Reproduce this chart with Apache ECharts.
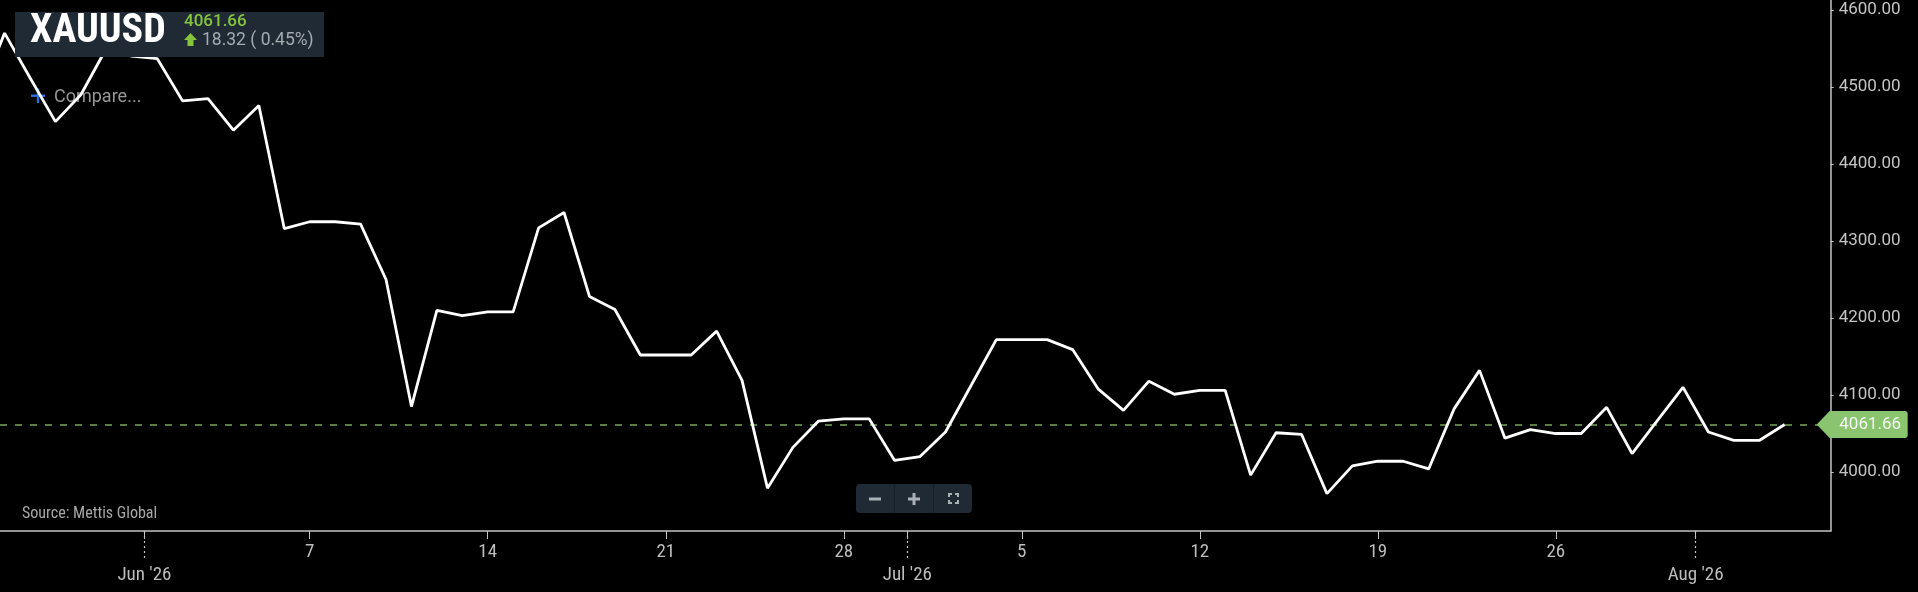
<!DOCTYPE html>
<html><head><meta charset="utf-8">
<script src="https://cdn.jsdelivr.net/npm/echarts@6/dist/echarts.min.js"></script>
<style>html,body{margin:0;padding:0;background:#000;}#c{width:1918px;height:592px;}</style>
</head><body><div id="c"></div>
<script>
// ---- data ----
const dates = [
 '2026-05-25','2026-05-26','2026-05-27','2026-05-28','2026-05-29','2026-05-30','2026-05-31',
 '2026-06-01','2026-06-02','2026-06-03','2026-06-04','2026-06-05','2026-06-06','2026-06-07','2026-06-08','2026-06-09','2026-06-10',
 '2026-06-11','2026-06-12','2026-06-13','2026-06-14','2026-06-15','2026-06-16','2026-06-17','2026-06-18','2026-06-19','2026-06-20',
 '2026-06-21','2026-06-22','2026-06-23','2026-06-24','2026-06-25','2026-06-26','2026-06-27','2026-06-28','2026-06-29','2026-06-30',
 '2026-07-01','2026-07-02','2026-07-03','2026-07-04','2026-07-05','2026-07-06','2026-07-07','2026-07-08','2026-07-09','2026-07-10',
 '2026-07-11','2026-07-12','2026-07-13','2026-07-14','2026-07-15','2026-07-16','2026-07-17','2026-07-18','2026-07-19','2026-07-20',
 '2026-07-21','2026-07-22','2026-07-23','2026-07-24','2026-07-25','2026-07-26','2026-07-27','2026-07-28','2026-07-29','2026-07-30','2026-07-31',
 '2026-08-01','2026-08-02','2026-08-03','2026-08-04'
];
const prices = [
 4487, 4570, 4512, 4455, 4490, 4550, 4540,
 4537, 4482, 4485, 4444, 4476, 4316, 4325, 4325, 4322, 4250,
 4085, 4210, 4203, 4208, 4208, 4317, 4337, 4228, 4211, 4152,
 4152, 4152, 4183, 4119, 3979, 4032, 4066, 4069, 4069, 4015,
 4020, 4052, 4112, 4172, 4172, 4172, 4159, 4108, 4080, 4118,
 4101, 4106, 4106, 3996, 4051, 4049, 3972, 4008, 4014, 4014,
 4004, 4082, 4132, 4044, 4055, 4050, 4050, 4084, 4024, 4067, 4110,
 4052, 4041, 4041, 4061.66
];
const lastPrice = 4061.66;
const change = '18.32';
const changePct = '0.45%';
const symbolName = 'XAUUSD';
const weekTickDates = ['2026-06-07','2026-06-14','2026-06-21','2026-06-28','2026-07-05','2026-07-12','2026-07-19','2026-07-26'];
const weekTickLabels = ['7','14','21','28','5','12','19','26'];
const monthTickDates = ['2026-06-01','2026-07-01','2026-08-01'];
const monthTickLabels = ["Jun '26","Jul '26","Aug '26"];
const yTicks = [4000, 4100, 4200, 4300, 4400, 4500, 4600];

// ---- helpers ----
const ORIGIN = Date.UTC(2026, 4, 31);
function dayNum(s) { const p = s.split('-').map(Number); return (Date.UTC(p[0], p[1]-1, p[2]) - ORIGIN) / 864e5; }
const seriesData = dates.map((d, i) => [dayNum(d), prices[i]]);
const weekVals = weekTickDates.map(dayNum);
const monthVals = monthTickDates.map(d => dayNum(d) - 0.5);

const NARROW = '"Liberation Sans Narrow","Roboto Condensed","DejaVu Sans Condensed",Roboto,sans-serif';
const ROBOTO = 'Roboto,"Noto Sans",sans-serif';
const X_MIN = -5.18, X_MAX = 66.81;
const GREEN = '#8ac46f';
const PANEL = '#1f2a35';

function lookup(vals, labels) {
  return v => { for (let i = 0; i < vals.length; i++) if (Math.abs(vals[i] - v) < 1e-6) return labels[i]; return ''; };
}

const chart = echarts.init(document.getElementById('c'), null, {renderer: 'canvas'});
const option = {
  backgroundColor: '#000',
  animation: false,
  grid: {left: 0, right: 87.3, top: 0, bottom: 61, containLabel: false},
  xAxis: [
    {
      type: 'value', min: X_MIN, max: X_MAX, position: 'bottom',
      splitLine: {show: false},
      axisLine: {show: true, onZero: false, lineStyle: {color: '#c4c4c4', width: 1.5}},
      axisTick: {show: true, length: 8, customValues: weekVals.concat(monthVals), lineStyle: {color: '#c4c4c4', width: 1}},
      axisLabel: {show: true, customValues: weekVals, formatter: lookup(weekVals, weekTickLabels),
        margin: 12, color: '#bdbdbd', fontFamily: NARROW, fontSize: 19}
    },
    {
      type: 'value', min: X_MIN, max: X_MAX, position: 'bottom',
      splitLine: {show: false},
      axisLine: {show: false, onZero: false},
      axisTick: {show: true, length: 28, customValues: monthVals, lineStyle: {color: '#c4c4c4', width: 1.2, type: [2, 3]}},
      axisLabel: {show: true, customValues: monthVals, formatter: lookup(monthVals, monthTickLabels),
        margin: 35, color: '#bdbdbd', fontFamily: NARROW, fontSize: 19}
    }
  ],
  yAxis: {
    type: 'value', position: 'right', min: 3923.4, max: 4613, scale: true,
    splitLine: {show: false},
    axisLine: {show: true, onZero: false, lineStyle: {color: '#c4c4c4', width: 1.5}},
    axisTick: {show: true, inside: false, length: 3, customValues: yTicks, lineStyle: {color: '#c4c4c4'}},
    axisLabel: {show: true, customValues: yTicks, formatter: v => v.toFixed(2), margin: 8,
      color: '#c4c4c4', fontFamily: ROBOTO, fontSize: 17}
  },
  series: [{
    type: 'line',
    xAxisIndex: 0,
    data: seriesData,
    showSymbol: false,
    clip: true,
    z: 5,
    lineStyle: {color: '#ffffff', width: 2.8},
    itemStyle: {color: '#ffffff'},
    markLine: {
      silent: true, symbol: 'none',
      lineStyle: {color: '#76a85a', width: 1.5, type: [7, 8]},
      label: {show: false},
      data: [{yAxis: lastPrice}]
    },
    markPoint: {
      silent: true,
      symbol: 'path://M0,13.5L13,0L88,0Q91,0,91,3L91,24Q91,27,88,27L13,27Z',
      symbolSize: [91, 27],
      symbolOffset: [31.5, 0],
      itemStyle: {color: GREEN},
      label: {show: true, formatter: lastPrice.toFixed(2), color: '#f4f8f2', fontFamily: ROBOTO, fontSize: 17, offset: [8, 0]},
      data: [{coord: [X_MAX, lastPrice]}]
    }
  }],
  graphic: [
    {type: 'rect', shape: {x: 15, y: 12, width: 309, height: 45}, style: {fill: PANEL}, z: 100},
    {type: 'text', z: 101, style: {text: symbolName, x: 30, y: 32, fill: '#ffffff', font: 'bold 40px ' + NARROW, verticalAlign: 'middle'}},
    {type: 'text', z: 101, style: {text: lastPrice.toFixed(2), x: 184, y: 22, fill: '#86c43c', font: '500 17px ' + ROBOTO, verticalAlign: 'middle'}},
    {type: 'polygon', z: 101, shape: {points: [[190.5,33],[197,40],[193.5,40],[193.5,46],[187.5,46],[187.5,40],[184,40]]}, style: {fill: '#86c43c'}},
    {type: 'text', z: 101, style: {text: change + ' ( ' + changePct + ')', x: 202, y: 40.5, fill: '#a4abb1', font: '17.5px ' + ROBOTO, verticalAlign: 'middle'}},
    {type: 'rect', z: 1, shape: {x: 31, y: 94.5, width: 14, height: 2.4}, style: {fill: '#2a6fdb'}},
    {type: 'rect', z: 1, shape: {x: 36.8, y: 88.5, width: 2.4, height: 14.5}, style: {fill: '#2a6fdb'}},
    {type: 'text', z: 1, style: {text: 'Compare...', x: 54, y: 97, fill: '#979797', font: '18px ' + ROBOTO, verticalAlign: 'middle'}},
    {type: 'text', z: 101, style: {text: 'Source: Mettis Global', x: 22, y: 514, fill: '#a8a8a8', font: '16px ' + NARROW, verticalAlign: 'middle'}},
    {type: 'rect', z: 101, shape: {x: 856, y: 484, width: 116, height: 29, r: 4}, style: {fill: PANEL}},
    {type: 'rect', z: 102, shape: {x: 894, y: 484, width: 1, height: 29}, style: {fill: '#17212a'}},
    {type: 'rect', z: 102, shape: {x: 933, y: 484, width: 1, height: 29}, style: {fill: '#17212a'}},
    {type: 'rect', z: 102, shape: {x: 869, y: 497.5, width: 12, height: 3}, style: {fill: '#a9b0b6'}},
    {type: 'rect', z: 102, shape: {x: 908, y: 497.5, width: 12, height: 3}, style: {fill: '#a9b0b6'}},
    {type: 'rect', z: 102, shape: {x: 912.5, y: 493, width: 3, height: 12}, style: {fill: '#a9b0b6'}},
    {type: 'polyline', z: 102, shape: {points: [[949,497],[949,494],[952,494]]}, style: {stroke: '#a9b0b6', lineWidth: 2, fill: null}},
    {type: 'polyline', z: 102, shape: {points: [[955,494],[958,494],[958,497]]}, style: {stroke: '#a9b0b6', lineWidth: 2, fill: null}},
    {type: 'polyline', z: 102, shape: {points: [[949,500],[949,503],[952,503]]}, style: {stroke: '#a9b0b6', lineWidth: 2, fill: null}},
    {type: 'polyline', z: 102, shape: {points: [[955,503],[958,503],[958,500]]}, style: {stroke: '#a9b0b6', lineWidth: 2, fill: null}}
  ]
};
chart.setOption(option);
</script></body></html>
